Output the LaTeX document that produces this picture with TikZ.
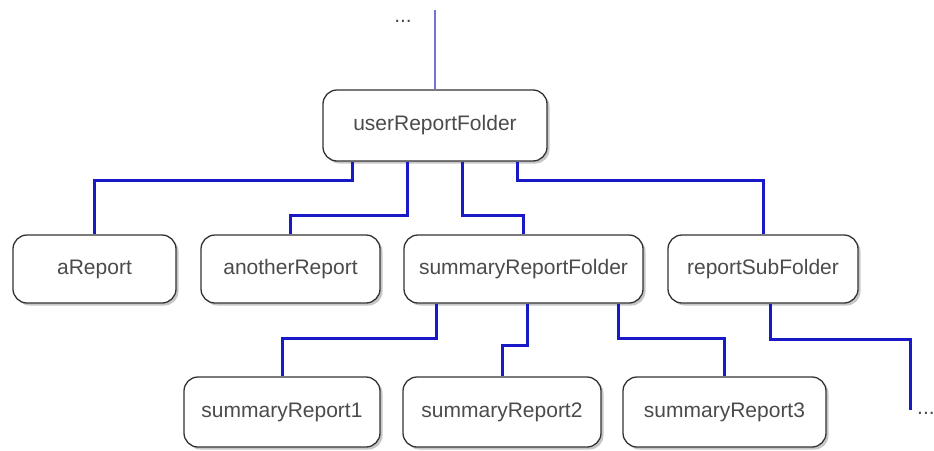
\documentclass[tikz,border=0pt]{standalone}
\usepackage{fontspec}
\setmainfont{Liberation Sans}
\usetikzlibrary{shadows}
\definecolor{linkblue}{RGB}{25,25,200}
\definecolor{toplink}{RGB}{115,115,215}
\definecolor{boxtext}{RGB}{75,75,75}
\begin{document}
\begin{tikzpicture}[x=1pt, y=1pt,
        item/.style={draw=black!80, line width=1.3pt, rounded corners=14pt, fill=white,
            drop shadow={shadow xshift=2.5pt, shadow yshift=-2.5pt, opacity=0.45},
            text=boxtext, font=\fontsize{21}{25}\selectfont, inner sep=0pt},
        link/.style={linkblue, line width=3pt},
        dots/.style={text=boxtext, font=\fontsize{21}{25}\selectfont}]
        \useasboundingbox (0, 0) rectangle (934, -450);
        \node[item, minimum width=224, minimum height=71] (URF) at (435, -125.5) {userReportFolder};
        \node[item, minimum width=163, minimum height=68] (AR) at (94.5, -269) {aReport};
        \node[item, minimum width=179, minimum height=68] (AnR) at (290.5, -269) {anotherReport};
        \node[item, minimum width=239, minimum height=68] (SRF) at (523.5, -269) {summaryReportFolder};
        \node[item, minimum width=190, minimum height=68] (RSF) at (763, -269) {reportSubFolder};
        \node[item, minimum width=196, minimum height=70] (SR1) at (282, -412) {summaryReport1};
        \node[item, minimum width=198, minimum height=70] (SR2) at (502, -412) {summaryReport2};
        \node[item, minimum width=203, minimum height=70] (SR3) at (724.5, -412) {summaryReport3};
        \node[dots, anchor=base] (TopDots) at (403, -22) {...};
        \node[dots, anchor=base west, inner sep=0pt] (EndDots) at (917, -414) {...};
        \coordinate (Up) at (435, -10);
        \coordinate (Down) at (910, -410);
        \draw[toplink, line width=2.2pt] (Up) -- (URF.north);
        \draw[link] ([xshift=-83]URF.south) -- ++(0, -19) -| (AR.north);
        \draw[link] ([xshift=-28]URF.south) -- ++(0, -54) -| (AnR.north);
        \draw[link] ([xshift=27]URF.south) -- ++(0, -54) -| (SRF.north);
        \draw[link] ([xshift=82]URF.south) -- ++(0, -19) -| (RSF.north);
        \draw[link] ([xshift=-87.5]SRF.south) -- ++(0, -35) -| (SR1.north);
        \draw[link] ([xshift=3.5]SRF.south) -- ++(0, -42) -| (SR2.north);
        \draw[link] ([xshift=94.5]SRF.south) -- ++(0, -35) -| (SR3.north);
        \draw[link] ([xshift=7]RSF.south) -- ++(0, -36) -| (Down);
    \end{tikzpicture}
\end{document}
